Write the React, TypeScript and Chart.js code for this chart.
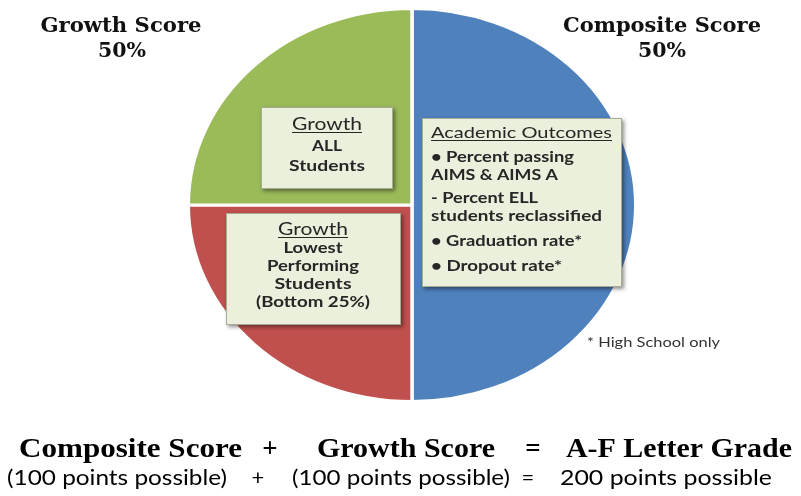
import React, { useEffect, useRef } from "react";
import { Chart, registerables } from "chart.js";

Chart.register(...registerables);

// ---- data ----
const sliceLabels = [
  "Composite Score",
  "Growth: Lowest Performing Students",
  "Growth: ALL Students",
];
const sliceValues = [50, 25, 25];
const sliceColors = ["#4F81BD", "#C0504D", "#9BBB59"];

const leftTitle = ["Growth Score", "50%"];
const rightTitle = ["Composite Score", "50%"];
const boxAllLines = ["Growth", "ALL", "Students"];
const boxLowestLines = ["Growth", "Lowest", "Performing", "Students", "(Bottom 25%)"];
const boxAcademicLines = [
  "Academic Outcomes",
  "• Percent passing",
  "AIMS & AIMS A",
  "- Percent ELL",
  "students reclassified",
  "• Graduation rate*",
  "• Dropout rate*",
];
const footnote = "* High School only";
const formulaTop = ["Composite Score", "+", "Growth Score", "=", "A-F Letter Grade"];
const formulaBottom = ["(100 points possible)", "+", "(100 points possible)", "=", "200 points possible"];

const SX = 222 / 195; // horizontal stretch of the pie (ellipse)

function fitText(
  ctx: CanvasRenderingContext2D,
  text: string,
  x: number,
  y: number,
  font: string,
  width: number | null,
  align: "left" | "center",
  color: string,
  underline = false
) {
  ctx.save();
  ctx.font = font;
  ctx.fillStyle = color;
  ctx.textBaseline = "alphabetic";
  ctx.textAlign = "left";
  const w = ctx.measureText(text).width;
  const s = width ? width / w : 1;
  const realW = w * s;
  const left = align === "center" ? x - realW / 2 : x;
  ctx.translate(left, y);
  ctx.scale(s, 1);
  ctx.fillText(text, 0, 0);
  ctx.restore();
  if (underline) {
    ctx.save();
    ctx.strokeStyle = color;
    ctx.lineWidth = 1;
    ctx.beginPath();
    ctx.moveTo(left, y + 2.5);
    ctx.lineTo(left + realW, y + 2.5);
    ctx.stroke();
    ctx.restore();
  }
}

function drawBox(ctx: CanvasRenderingContext2D, x: number, y: number, w: number, h: number) {
  ctx.save();
  ctx.shadowColor = "rgba(0,0,0,0.45)";
  ctx.shadowBlur = 4;
  ctx.shadowOffsetX = 2;
  ctx.shadowOffsetY = 2;
  ctx.fillStyle = "#EBF0DD";
  ctx.fillRect(x, y, w, h);
  ctx.restore();
  ctx.save();
  ctx.strokeStyle = "rgba(150,155,130,0.8)";
  ctx.lineWidth = 1;
  ctx.strokeRect(x + 0.5, y + 0.5, w - 1, h - 1);
  ctx.restore();
}

const ellipsePlugin = {
  id: "ellipse",
  beforeDatasetsDraw(chart: any) {
    const arc = chart.getDatasetMeta(0).data[0];
    const ctx = chart.ctx;
    ctx.save();
    ctx.translate(arc.x, 0);
    ctx.scale(SX, 1);
    ctx.translate(-arc.x, 0);
  },
  afterDatasetsDraw(chart: any) {
    chart.ctx.restore();
  },
};

const annotationPlugin = {
  id: "annotations",
  afterDraw(chart: any) {
    const ctx: CanvasRenderingContext2D = chart.ctx;
    const serifTitle = "bold 20px 'DejaVu Serif'";
    // top titles
    fitText(ctx, leftTitle[0], 121, 32, serifTitle, 161, "center", "#111");
    fitText(ctx, leftTitle[1], 122, 57, serifTitle, 48, "center", "#111");
    fitText(ctx, rightTitle[0], 662, 32, serifTitle, 198, "center", "#111");
    fitText(ctx, rightTitle[1], 662, 57, serifTitle, 48, "center", "#111");

    const sans = (px: number, weight = "normal") => `${weight} ${px}px Lato`;
    const tc = "#262626";

    // box: Growth ALL
    drawBox(ctx, 261, 107, 132, 82);
    fitText(ctx, boxAllLines[0], 327, 130, sans(18), 70, "center", tc, true);
    fitText(ctx, boxAllLines[1], 327, 151, sans(15, "bold"), 30, "center", tc);
    fitText(ctx, boxAllLines[2], 327, 171, sans(15, "bold"), 76, "center", tc);

    // box: Growth lowest
    drawBox(ctx, 226, 213, 175, 112);
    fitText(ctx, boxLowestLines[0], 313, 235, sans(18), 70, "center", tc, true);
    fitText(ctx, boxLowestLines[1], 313, 253, sans(15, "bold"), 59, "center", tc);
    fitText(ctx, boxLowestLines[2], 313, 271, sans(15, "bold"), 92, "center", tc);
    fitText(ctx, boxLowestLines[3], 313, 289, sans(15, "bold"), 77, "center", tc);
    fitText(ctx, boxLowestLines[4], 313, 307, sans(15, "bold"), 114, "center", tc);

    // box: Academic outcomes
    drawBox(ctx, 422, 118, 200, 169);
    const ax = 431;
    fitText(ctx, boxAcademicLines[0], ax, 138, sans(16), 181, "left", tc, true);
    fitText(ctx, boxAcademicLines[1], ax, 162, sans(15, "bold"), 143, "left", tc);
    fitText(ctx, boxAcademicLines[2], ax, 180, sans(15, "bold"), 127, "left", tc);
    fitText(ctx, boxAcademicLines[3], ax, 203, sans(15, "bold"), 107, "left", tc);
    fitText(ctx, boxAcademicLines[4], ax, 221, sans(15, "bold"), 171, "left", tc);
    fitText(ctx, boxAcademicLines[5], ax, 246, sans(15, "bold"), 151, "left", tc);
    fitText(ctx, boxAcademicLines[6], ax, 271, sans(15, "bold"), 131, "left", tc);

    // footnote
    fitText(ctx, footnote, 587, 347, sans(13), 133, "left", "#333");

    // formula lines
    const serifBig = "bold 27px 'Liberation Serif'";
    const y1 = 457;
    fitText(ctx, formulaTop[0], 19, y1, serifBig, 223, "left", "#000");
    fitText(ctx, formulaTop[1], 270, y1, serifBig, null, "center", "#000");
    fitText(ctx, formulaTop[2], 317, y1, serifBig, 178, "left", "#000");
    fitText(ctx, formulaTop[3], 533, y1, serifBig, null, "center", "#000");
    fitText(ctx, formulaTop[4], 566, y1, serifBig, 226, "left", "#000");

    const sansBig = sans(22);
    const y2 = 485;
    fitText(ctx, formulaBottom[0], 7, y2, sansBig, 220, "left", "#000");
    fitText(ctx, formulaBottom[1], 258, y2, sansBig, null, "center", "#000");
    fitText(ctx, formulaBottom[2], 292, y2, sansBig, 218, "left", "#000");
    fitText(ctx, formulaBottom[3], 528, y2, sansBig, null, "center", "#000");
    fitText(ctx, formulaBottom[4], 560, y2, sansBig, 212, "left", "#000");
  },
};

export default function App() {
  const canvasRef = useRef<HTMLCanvasElement | null>(null);

  useEffect(() => {
    const canvas = canvasRef.current;
    if (!canvas) return;
    const chart = new Chart(canvas, {
      type: "pie",
      data: {
        labels: sliceLabels,
        datasets: [
          {
            data: sliceValues,
            backgroundColor: sliceColors,
            borderColor: "#ffffff",
            borderWidth: 3,
            radius: 196.5,
          } as any,
        ],
      },
      options: {
        responsive: false,
        animation: false,
        devicePixelRatio: 1,
        events: [],
        layout: { padding: { left: 23, right: 0, top: 0, bottom: 86 } },
        plugins: {
          legend: { display: false },
          tooltip: { enabled: false },
          title: { display: false },
        },
      },
      plugins: [ellipsePlugin, annotationPlugin],
    });
    return () => chart.destroy();
  }, []);

  return (
    <div style={{ position: "absolute", left: 0, top: 0, width: 801, height: 496, background: "#fff" }}>
      <canvas ref={canvasRef} width={801} height={496} style={{ display: "block" }} />
    </div>
  );
}
